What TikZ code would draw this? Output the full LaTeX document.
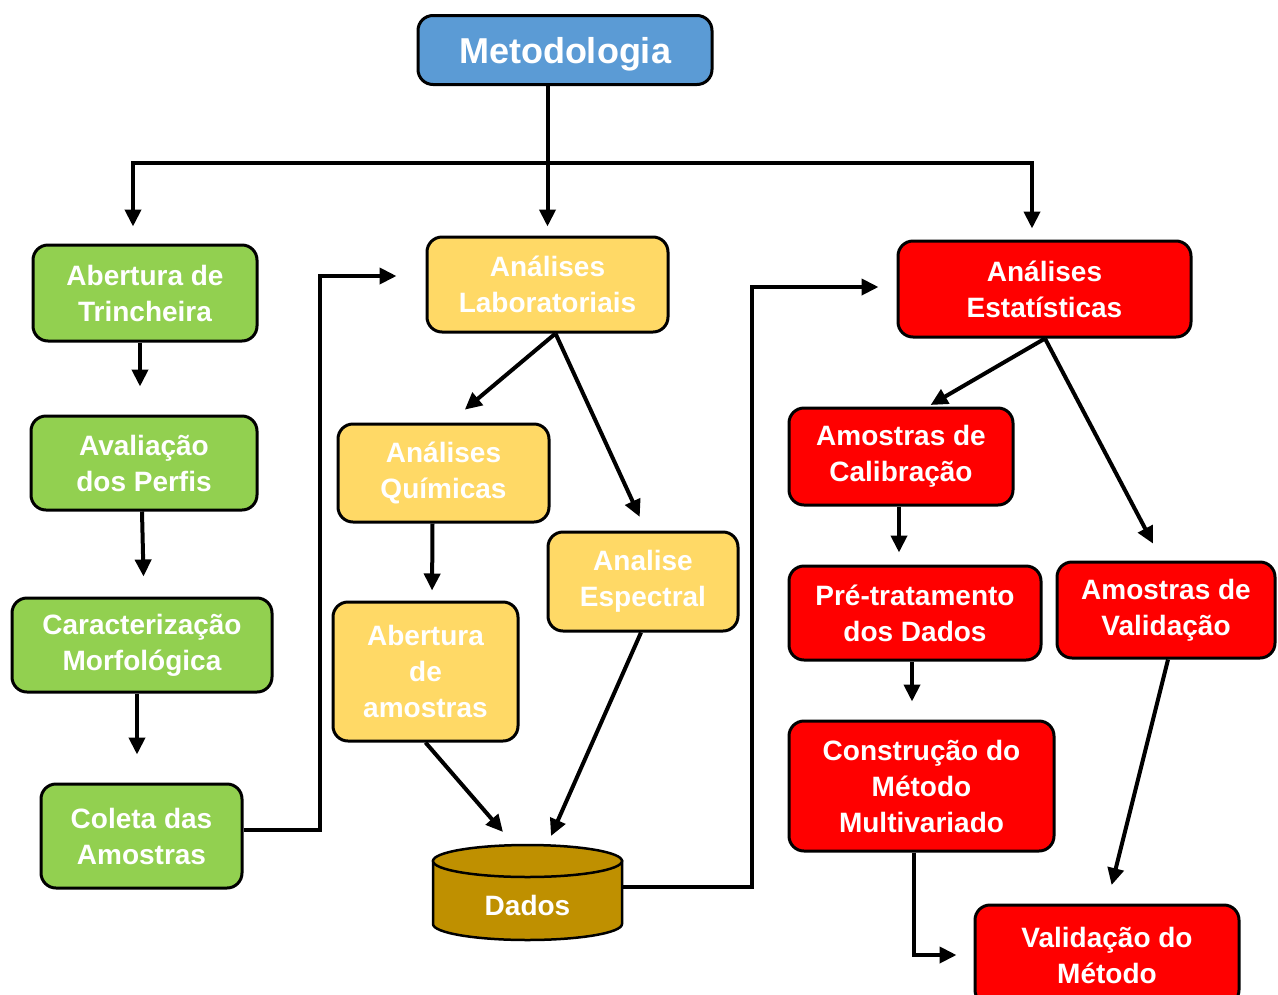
\documentclass[tikz,border=0pt]{standalone}
\usepackage{fontspec}
\setmainfont{Liberation Sans}
\usetikzlibrary{arrows.meta}
\definecolor{cblue}{HTML}{5B9BD5}
\definecolor{cgreen}{HTML}{92D050}
\definecolor{cyellow}{HTML}{FFD966}
\definecolor{cred}{HTML}{FF0000}
\definecolor{cdados}{HTML}{BF9000}
\begin{document}
\begin{tikzpicture}[x=1pt,y=-1pt,
  box/.style={draw=black, line width=3pt, rounded corners=15pt, text=white, align=center,
    font=\bfseries\fontsize{28}{36}\selectfont, inner sep=0pt},
  gbox/.style={box, fill=cgreen},
  ybox/.style={box, fill=cyellow},
  rbox/.style={box, fill=cred},
  conn/.style={line width=4pt, line join=miter},
  arr/.style={conn, -{Triangle[length=17pt,width=16pt]}}]
\useasboundingbox (0,0) rectangle (1278,994);
\fill[white] (0,0) rectangle (1278,994);

% nodes
\node[box, fill=cblue, minimum width=294pt, minimum height=69pt, text depth=0pt, font=\bfseries\fontsize{36}{40}\selectfont] (metod) at (565,50) {Metodologia};

\node[gbox, minimum width=224pt, minimum height=96pt] (trinch) at (145,293) {Abertura de\\Trincheira};
\node[gbox, minimum width=226pt, minimum height=94pt] (aval) at (144,463) {Avaliação\\dos Perfis};
\node[gbox, minimum width=260pt, minimum height=94pt] (carac) at (142,645) {Caracterização\\Morfológica};
\node[gbox, minimum width=201pt, minimum height=104pt] (coleta) at (141.5,836) {Coleta das\\Amostras};

\node[ybox, minimum width=241pt, minimum height=95pt] (lab) at (547.5,284.5) {Análises\\Laboratoriais};
\node[ybox, minimum width=211pt, minimum height=98pt] (quim) at (443.5,473) {Análises\\Químicas};
\node[ybox, minimum width=190pt, minimum height=99pt] (espec) at (643,581.5) {Analise\\Espectral};
\node[ybox, minimum width=185pt, minimum height=139pt] (abam) at (425.5,671.5) {Abertura\\de\\amostras};

\node[rbox, minimum width=293pt, minimum height=96pt] (estat) at (1044.5,289) {Análises\\Estatísticas};
\node[rbox, minimum width=224pt, minimum height=97pt] (calib) at (901,456.5) {Amostras de\\Calibração};
\node[rbox, minimum width=252pt, minimum height=94pt] (pretr) at (915,613) {Pré-tratamento\\dos Dados};
\node[rbox, minimum width=218pt, minimum height=96pt] (valid) at (1166,610) {Amostras de\\Validação};
\node[rbox, minimum width=265pt, minimum height=130pt] (constr) at (921.5,786) {Construção do\\Método\\Multivariado};
\node[rbox, minimum width=264pt, minimum height=100pt] (valmet) at (1107,955) {Validação do\\Método};

% database cylinder
\draw[line width=2.5pt, fill=cdados] (433,861) -- (433,924)
  arc[start angle=180, end angle=360, x radius=94.5pt, y radius=16pt] -- (622,861) -- cycle;
\draw[line width=2.5pt, fill=cdados] (527.5,861) ellipse [x radius=94.5pt, y radius=16pt];
\node[text=white, font=\bfseries\fontsize{28}{33}\selectfont, inner sep=0pt] (dados) at (527.5,905) {Dados};
\coordinate (dadosR) at (622,887);
\coordinate (dA) at (503,832);
\coordinate (dB) at (551,836);

% top distribution
\coordinate (bl) at (133,163);
\coordinate (br) at (1032,163);
\draw[arr, shorten >=9pt] (metod.south -| lab.north) -- (lab.north);
\draw[conn, line cap=rect] (bl) -- (br);
\draw[arr, shorten >=17pt] (bl) -- (bl |- trinch.north);
\draw[arr, shorten >=11pt] (br) -- (br |- estat.north);

% left column
\draw[arr, shorten >=28pt] ([xshift=-5pt]trinch.south) -- ([xshift=-4pt]aval.north);
\draw[arr, shorten >=20pt] ([xshift=-2pt]aval.south) -- (aval.south |- carac.north);
\draw[arr, shorten >=28pt] ([xshift=-5pt]carac.south) -- ([xshift=-4.5pt]coleta.north);
\coordinate (k1) at (320,276);
\draw[arr, shorten >=29pt] ([yshift=6pt]coleta.east) -| (k1) -- (k1 -| lab.west);

% middle column
\draw[arr, shorten >=20pt] ([xshift=8pt]lab.south) -- ([xshift=6pt]quim.north);
\draw[arr, shorten >=15pt] ([xshift=8pt]lab.south) -- ([xshift=3pt]espec.north);
\draw[arr, shorten >=10pt] ([xshift=-11pt]quim.south) -- ([xshift=6.5pt]abam.north);
\draw[arr] (abam.south) -- (dA);
\draw[arr] ([xshift=-2pt]espec.south) -- (dB);
\coordinate (k2) at (752,287);
\draw[arr, shorten >=18pt] (dadosR) -| (k2) -- (k2 -| estat.west);

% right side
\draw[arr, shorten >=3pt] ([xshift=0.5pt]estat.south) -- ([xshift=27pt]calib.north);
\draw[arr, shorten >=19pt] ([xshift=0.5pt]estat.south) -- ([xshift=-4pt]valid.north);
\draw[arr, shorten >=12pt] ([xshift=-2pt]calib.south) -- ([xshift=-2pt]calib.south |- pretr.north);
\draw[arr, shorten >=18pt] ([xshift=-3pt]pretr.south) -- ([xshift=-9.5pt]constr.north);
\draw[arr, shorten >=17pt] ([xshift=-7.5pt]constr.south) |- (valmet.west);
\draw[arr, shorten >=19pt] ([xshift=2pt]valid.south) -- (valmet.north);
\end{tikzpicture}
\end{document}
